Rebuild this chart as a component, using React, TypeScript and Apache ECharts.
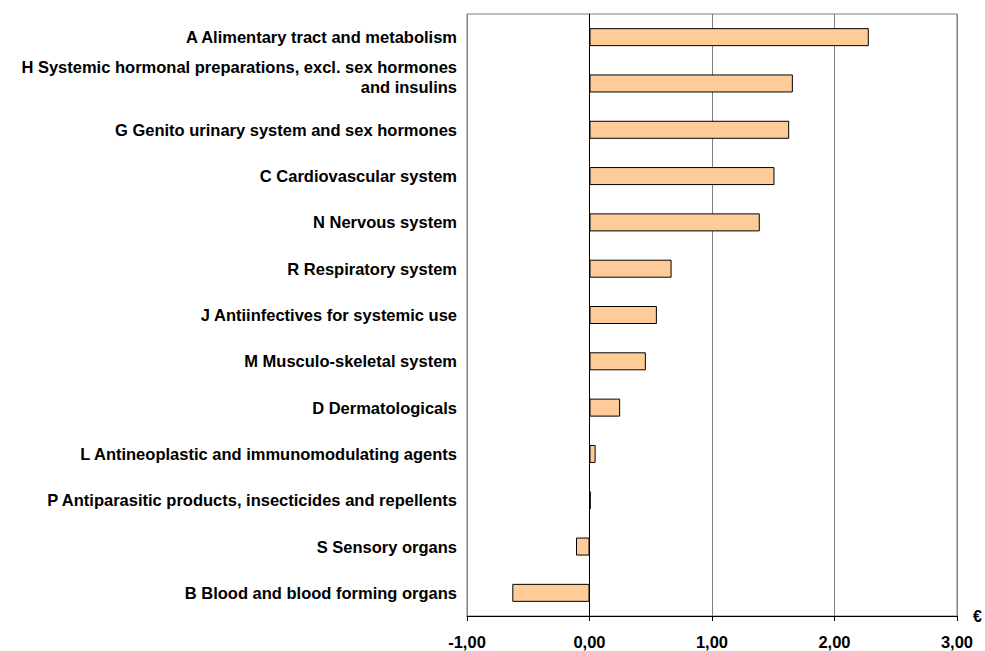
import React, { useEffect, useRef } from "react";
import * as echarts from "echarts";

const categories = [
  "A Alimentary tract and metabolism",
  "H Systemic hormonal preparations, excl. sex hormones\nand insulins",
  "G Genito urinary system and sex hormones",
  "C Cardiovascular system",
  "N Nervous system",
  "R Respiratory system",
  "J Antiinfectives for systemic use",
  "M Musculo-skeletal system",
  "D Dermatologicals",
  "L Antineoplastic and immunomodulating agents",
  "P Antiparasitic products, insecticides and repellents",
  "S Sensory organs",
  "B Blood and blood forming organs",
];

const values = [2.28, 1.66, 1.63, 1.51, 1.39, 0.67, 0.55, 0.46, 0.25, 0.05, 0.01, -0.11, -0.63];

const xMin = -1;
const xMax = 3;
const xInterval = 1;
const unitLabel = "€";

export default function App() {
  const ref = useRef<HTMLDivElement>(null);
  useEffect(() => {
    if (!ref.current) return;
    const chart = echarts.init(ref.current, null, { renderer: "svg" });
    const font = "'Liberation Sans', Arial, sans-serif";
    chart.setOption({
      animation: false,
      backgroundColor: "#ffffff",
      grid: {
        left: 467,
        right: 28,
        top: 14,
        bottom: 35,
        show: true,
        borderColor: "#808080",
        borderWidth: 1,
        backgroundColor: "transparent",
        outerBoundsMode: "none",
      },
      xAxis: {
        type: "value",
        min: xMin,
        max: xMax,
        interval: xInterval,
        name: unitLabel,
        nameLocation: "end",
        nameGap: 16,
        nameTextStyle: {
          color: "#000",
          fontFamily: font,
          fontWeight: "bold",
          fontSize: 16,
          verticalAlign: "middle",
        },
        axisLine: { show: true, onZero: false, lineStyle: { color: "#000", width: 1 } },
        axisTick: { show: true, length: 5, lineStyle: { color: "#000" } },
        axisLabel: {
          color: "#000",
          fontFamily: font,
          fontWeight: "bold",
          fontSize: 16.5,
          margin: 17,
          formatter: (v: number) => v.toFixed(2).replace(".", ","),
        },
        splitLine: { show: true, lineStyle: { color: "#808080", width: 1 } },
      },
      yAxis: {
        type: "category",
        inverse: true,
        data: categories,
        axisLine: { show: true, onZero: true, lineStyle: { color: "#000", width: 1 } },
        axisTick: { show: false },
        axisLabel: {
          color: "#000",
          fontFamily: font,
          fontWeight: "bold",
          fontSize: 16.5,
          lineHeight: 20,
          align: "right",
          margin: 10,
          formatter: (v: string) => {
            const lines = v.split("\n");
            if (lines.length === 1) return "{l|" + v + "}";
            return lines.map((s) => "{l|" + s + "}").join("\n") + "\n{g| }";
          },
          rich: {
            l: {
              color: "#000",
              fontFamily: font,
              fontWeight: "bold",
              fontSize: 16.5,
              lineHeight: 20,
              align: "right",
            },
            g: { fontSize: 1, lineHeight: 12, align: "right" },
          },
        },
        splitLine: { show: false },
      },
      series: [
        {
          type: "bar",
          data: values,
          barWidth: 18,
          itemStyle: {
            color: "#FFCC99",
            borderColor: "#000",
            borderWidth: 1,
          },
        },
      ],
    });
    return () => chart.dispose();
  }, []);
  return (
    <div
      ref={ref}
      style={{ position: "fixed", left: 0, top: 0, width: 985, height: 651 }}
    />
  );
}
